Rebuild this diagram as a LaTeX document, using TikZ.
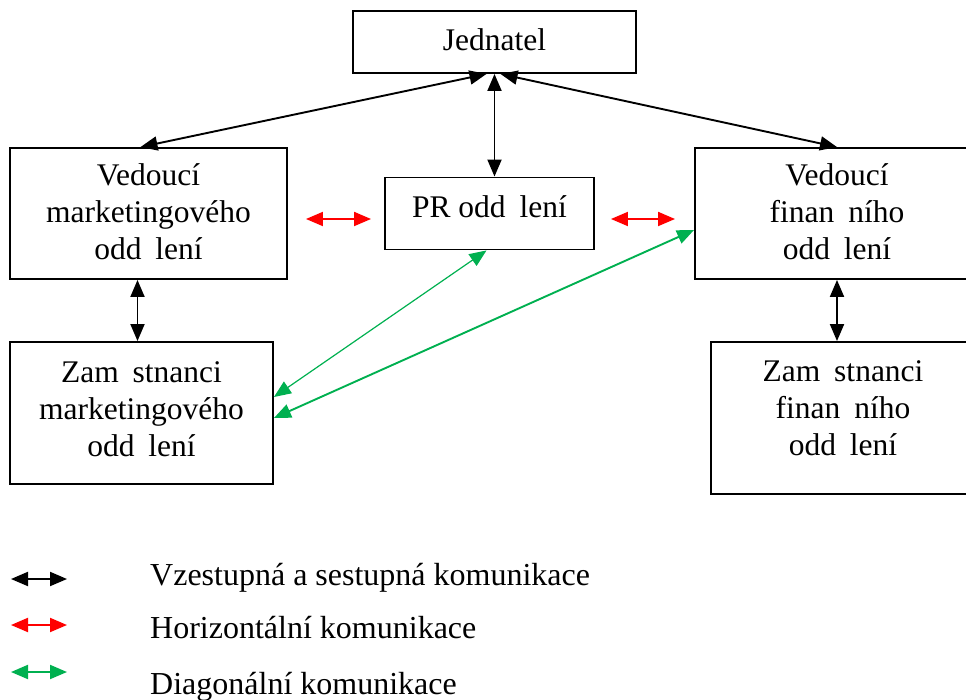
\documentclass[tikz,border=0pt]{standalone}
\usepackage{fontspec}
\setmainfont{Liberation Serif}
\usetikzlibrary{arrows.meta}
\definecolor{hgreen}{RGB}{0,176,80}
\definecolor{hred}{RGB}{255,0,0}
% gaps left by glyphs the original font could not show
\newcommand{\gape}{\phantom{e}}
\newcommand{\gapc}{\phantom{c}}
\begin{document}
\begin{tikzpicture}[x=1pt,y=-1pt,
  box/.style={draw,line width=1.9pt,inner sep=0pt,rectangle},
  label/.style={align=center,font=\fontsize{31.5}{37}\selectfont,inner sep=0pt},
  legtext/.style={anchor=base west,font=\fontsize{32}{37}\selectfont,inner sep=0pt},
  tip/.style={Triangle[length=17pt,width=14pt]},
  link/.style={line width=1.9pt,{Triangle[length=17pt,width=14pt]}-{Triangle[length=17pt,width=14pt]}},
  vlink/.style={link,black},
  hlink/.style={link,hred},
  dlink/.style={link,hgreen},
  dthin/.style={dlink,line width=1.2pt}]
\useasboundingbox (0,0) rectangle (966,700);

% boxes
\node[box,minimum width=283pt,minimum height=62pt] (jed) at (494.5,42) {};
\node[box,minimum width=277pt,minimum height=131pt] (vm) at (148.5,213.5) {};
\node[box,minimum width=209pt,minimum height=72pt] (pr) at (489.5,213.5) {};
\node[box,minimum width=284pt,minimum height=131pt] (vf) at (837,213.5) {};
\node[box,minimum width=263pt,minimum height=142pt] (vme) at (141.5,413) {};
\node[box,minimum width=264pt,minimum height=152pt] (vfe) at (843,418) {};

% box texts
\node[label] (tjed) at (494.5,40) {Jednatel};
\node[label] (tvm) at (148.5,212) {Vedoucí\\marketingového\\odd\gape lení};
\node[label] (tpr) at (489.5,207) {PR odd\gape lení};
\node[label] (tvf) at (837,212) {Vedoucí\\finan\gapc ního\\odd\gape lení};
\node[label] (tvme) at (141.5,409) {Zam\gape stnanci\\marketingového\\odd\gape lení};
\node[label] (tvfe) at (843,408) {Zam\gape stnanci\\finan\gapc ního\\odd\gape lení};

% vertical communication
\draw[vlink] ([xshift=-8pt]jed.south) -- ([xshift=-8pt]vm.north);
\draw[vlink] ([xshift=6pt]jed.south) -- (vf.north);
\draw[vlink] (jed.south) -- (jed.south |- pr.north);
\draw[vlink] ([xshift=-4pt]vme.north |- vm.south) -- ([xshift=-4pt]vme.north);
\draw[vlink] (vf.south) -- (vf.south |- vfe.north);

% horizontal communication
\draw[hlink] ([xshift=18pt,yshift=-5.5pt]vm.east) -- ([xshift=-13pt,yshift=-5.5pt]pr.west);
\draw[hlink] ([xshift=16pt,yshift=-5.5pt]pr.east) -- ([xshift=-19pt,yshift=-5.5pt]vf.west);

% diagonal communication
\draw[dthin] ([xshift=-3pt]pr.south) -- ([yshift=16pt]vme.east);
\draw[dlink] ([yshift=-5pt]vme.east) -- ([yshift=-16.5pt]vf.west);

% legend
\coordinate (l1a) at (11,579); \coordinate (l1b) at (67,579);
\coordinate (l2a) at (11,625); \coordinate (l2b) at (67,625);
\coordinate (l3a) at (11,672); \coordinate (l3b) at (67,672);
\draw[vlink] (l1a) -- (l1b);
\draw[hlink] (l2a) -- (l2b);
\draw[dlink] (l3a) -- (l3b);
\node[legtext] (t1) at (150,585) {Vzestupná a sestupná komunikace};
\node[legtext] (t2) at (150,638) {Horizontální komunikace};
\node[legtext] (t3) at (150,694) {Diagonální komunikace};
\end{tikzpicture}
\end{document}
